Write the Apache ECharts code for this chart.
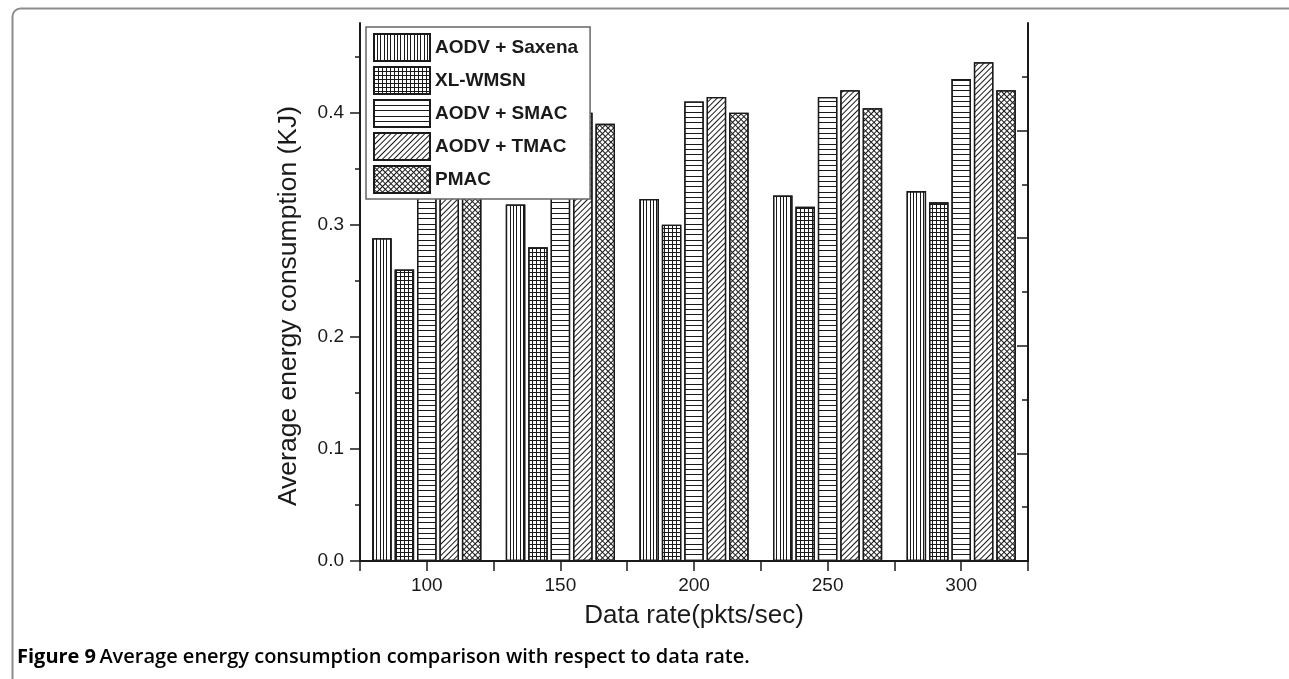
<!DOCTYPE html>
<html><head><meta charset="utf-8">
<script src="https://cdn.jsdelivr.net/npm/echarts@6/dist/echarts.min.js"></script>
<style>html,body{margin:0;padding:0;background:#fff}#c{width:1289px;height:679px}</style>
</head><body><div id="c"></div>
<script>
const categories = ['100', '150', '200', '250', '300'];
const seriesNames = ['AODV + Saxena', 'XL-WMSN', 'AODV + SMAC', 'AODV + TMAC', 'PMAC'];
const saxena = [0.288, 0.318, 0.323, 0.326, 0.330];
const xlwmsn = [0.260, 0.280, 0.300, 0.316, 0.320];
const smac = [0.370, 0.390, 0.410, 0.414, 0.430];
const tmac = [0.380, 0.400, 0.414, 0.420, 0.445];
const pmac = [0.360, 0.390, 0.400, 0.404, 0.420];
const yMajorTicks = [0, 0.1, 0.2, 0.3, 0.4];
const yMinorTicks = [0.05, 0.15, 0.25, 0.35, 0.45];
const rightMajorTicks = [0.096, 0.192, 0.288, 0.384];
const rightMinorTicks = [0.048, 0.144, 0.24, 0.336, 0.432];
const yTitle = 'Average energy consumption (KJ)';
const xTitle = 'Data rate(pkts/sec)';
const captionBold = 'Figure 9';
const captionRest = 'Average energy consumption comparison with respect to data rate.';

const allValues = [saxena, xlwmsn, smac, tmac, pmac];
const FONT = 'Liberation Sans, Arial, Helvetica, sans-serif';
const INK = '#1a1a1a';
const decals = [
  {symbol: 'rect', symbolSize: 1, color: INK, dashArrayX: [[1, 2, 1, 2, 1, 3]], dashArrayY: [10, 0]},
  {symbol: 'rect', symbolSize: 1, color: INK, dashArrayX: [[10, 0], [1, 3]], dashArrayY: [1, 0, 3, 0]},
  {symbol: 'rect', symbolSize: 1, color: INK, dashArrayX: [[10, 0]], dashArrayY: [1, 4, 1, 4, 1, 5]},
  {symbol: 'rect', symbolSize: 1, color: INK, dashArrayX: [[1, 3]], dashArrayY: [10, 0], rotation: Math.PI / 4},
  {symbol: 'rect', symbolSize: 1, color: INK, dashArrayX: [[10, 0], [1, 3]], dashArrayY: [1, 0, 3, 0], rotation: Math.PI / 4}
];

const gridRect = {left: 360, top: 23, width: 668, height: 538, outerBoundsMode: 'none', containLabel: false};
const lineStyle = {color: INK, width: 2};
const noLabel = {show: false};

const option = {
  backgroundColor: '#fff',
  animation: false,
  grid: [Object.assign({}, gridRect), Object.assign({}, gridRect)],
  xAxis: [
    {gridIndex: 0, type: 'category', position: 'bottom', data: categories,
     axisLine: {show: true, lineStyle: lineStyle},
     axisTick: {show: true, alignWithLabel: true, length: 10, lineStyle: {color: INK, width: 1.5}},
     axisLabel: {show: true, fontSize: 19, fontFamily: FONT, color: INK, margin: 15},
     name: xTitle, nameLocation: 'middle', nameGap: 42,
     nameTextStyle: {fontSize: 26, fontFamily: FONT, color: INK},
     splitLine: {show: false}},
    {gridIndex: 0, type: 'category', position: 'top', data: categories,
     axisLine: {show: true, lineStyle: lineStyle},
     axisTick: {show: true, inside: true, length: 10, lineStyle: {color: INK, width: 1.5}},
     axisLabel: noLabel, splitLine: {show: false}},
    {gridIndex: 1, type: 'category', position: 'bottom', data: categories,
     axisLine: {show: false},
     axisTick: {show: true, length: 6, lineStyle: {color: INK, width: 1.5}},
     axisLabel: noLabel, splitLine: {show: false}},
    {gridIndex: 1, type: 'category', position: 'top', data: categories,
     axisLine: {show: false},
     axisTick: {show: true, inside: true, alignWithLabel: true, length: 5, lineStyle: {color: INK, width: 1.5}},
     axisLabel: noLabel, splitLine: {show: false}}
  ],
  yAxis: [
    {gridIndex: 0, type: 'value', position: 'left', min: 0, max: 0.48,
     axisLine: {show: true, lineStyle: lineStyle},
     axisTick: {show: true, length: 10, customValues: yMajorTicks, lineStyle: {color: INK, width: 1.5}},
     axisLabel: {show: true, customValues: yMajorTicks, formatter: v => Number(v).toFixed(1),
                 fontSize: 19, fontFamily: FONT, color: INK, margin: 16},
     name: yTitle, nameLocation: 'middle', nameGap: 58,
     nameTextStyle: {fontSize: 26.5, fontFamily: FONT, color: INK, padding: [0, 28, 0, 0]},
     splitLine: {show: false}},
    {gridIndex: 0, type: 'value', position: 'right', min: 0, max: 0.48,
     axisLine: {show: true, lineStyle: lineStyle},
     axisTick: {show: true, inside: true, length: 11, customValues: rightMajorTicks, lineStyle: {color: INK, width: 1.5}},
     axisLabel: noLabel, splitLine: {show: false}},
    {gridIndex: 1, type: 'value', position: 'left', min: 0, max: 0.48,
     axisLine: {show: false},
     axisTick: {show: true, length: 5, customValues: yMinorTicks, lineStyle: {color: INK, width: 1.5}},
     axisLabel: noLabel, splitLine: {show: false}},
    {gridIndex: 1, type: 'value', position: 'right', min: 0, max: 0.48,
     axisLine: {show: false},
     axisTick: {show: true, inside: true, length: 6, customValues: rightMinorTicks, lineStyle: {color: INK, width: 1.5}},
     axisLabel: noLabel, splitLine: {show: false}}
  ],
  legend: {
    orient: 'vertical', left: 366, top: 27,
    data: seriesNames,
    icon: 'rect', itemWidth: 56, itemHeight: 27, itemGap: 4,
    padding: [6, 12, 5, 7],
    backgroundColor: '#fff', borderColor: '#666', borderWidth: 1.5,
    textStyle: {fontSize: 19, fontWeight: 'bold', fontFamily: FONT, color: INK},
    z: 10
  },
  series: seriesNames.map((name, i) => ({
    name: name, type: 'bar', xAxisIndex: 0, yAxisIndex: 0,
    data: allValues[i], barWidth: 19.5, barGap: '15%',
    itemStyle: {color: '#fff', borderColor: INK, borderWidth: 1.3, decal: decals[i]},
    emphasis: {disabled: true}
  })),
  graphic: [
    {type: 'rect', left: 10, top: 6, shape: {width: 1300, height: 700, r: [8, 0, 0, 0]},
     style: {fill: 'none', stroke: '#8c8c8c', lineWidth: 2}, silent: true},
    {type: 'text', x: 17, y: 657,
     style: {text: '{b|' + captionBold + '} {m|' + captionRest + '}', verticalAlign: 'middle',
       rich: {b: {fontSize: 20, fontWeight: 'bold', fontFamily: 'Open Sans, Noto Sans, sans-serif', fill: '#000'},
              m: {fontSize: 20, fontWeight: 600, fontFamily: 'Open Sans, Noto Sans, sans-serif', fill: '#000'}}}}
  ]
};
const chart = echarts.init(document.getElementById('c'), null, {renderer: 'canvas'});
chart.setOption(option);
</script></body></html>
